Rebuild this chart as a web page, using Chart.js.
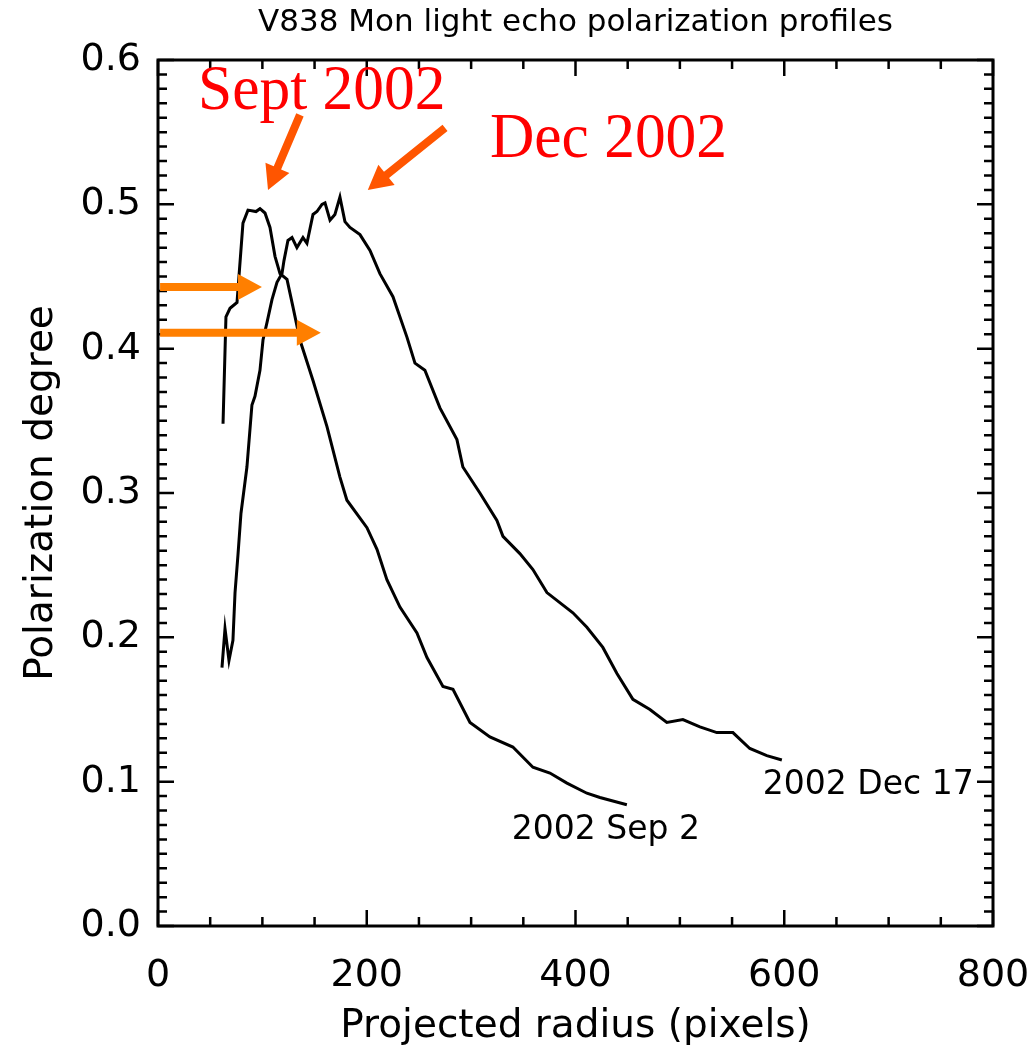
<!DOCTYPE html>
<html>
<head>
<meta charset="utf-8">
<script src="https://cdn.jsdelivr.net/npm/chart.js@4.4.1/dist/chart.umd.min.js"></script>
<style>
  html, body { margin: 0; padding: 0; background: #fff; }
</style>
</head>
<body>
<canvas id="chart" width="1032" height="1058"></canvas>
<script>
// 2002 Sep 2 profile
const sepX = [62.3, 65.1, 69.0, 75.7, 81.4, 86.2, 93.9, 97.7, 102.5, 107.3, 112.1, 116.9, 123.6, 129.3, 136.0,
  148.5, 161.9, 174.3, 181.0, 200.2, 209.8, 219.3, 231.8, 248.1, 257.7, 273.0, 282.6, 298.9, 318.0, 340.0,
  359.2, 375.5, 391.8, 410.9, 423.4, 449.2];
const sepY = [0.348, 0.422, 0.428, 0.432, 0.487, 0.496, 0.495, 0.497, 0.494, 0.484, 0.464, 0.452, 0.448, 0.429, 0.406,
  0.378, 0.346, 0.311, 0.295, 0.276, 0.261, 0.240, 0.221, 0.203, 0.186, 0.166, 0.164, 0.141, 0.131, 0.124,
  0.110, 0.106, 0.099, 0.092, 0.089, 0.084];

// 2002 Dec 17 profile
const decX = [61.3, 64.2, 68.0, 71.8, 73.8, 76.6, 79.5, 85.2, 90.0, 92.9, 97.7, 100.6, 104.4, 109.2, 114.0,
  118.8, 120.7, 124.5, 128.4, 133.1, 138.9, 142.7, 148.5, 152.3, 157.1, 160.0, 164.8, 169.5, 174.3, 179.1,
  183.9, 193.5, 203.1, 212.6, 225.1, 238.5, 246.2, 255.7, 270.1, 286.4, 292.1, 308.4, 324.7, 330.5, 346.7,
  359.2, 372.6, 397.5, 410.9, 426.2, 439.7, 455.0, 471.3, 487.5, 502.9, 519.2, 535.4, 550.8, 567.0, 583.3, 597.7];
const decY = [0.179, 0.206, 0.184, 0.198, 0.231, 0.257, 0.286, 0.318, 0.361, 0.367, 0.385, 0.406, 0.418, 0.434, 0.446,
  0.452, 0.461, 0.475, 0.477, 0.470, 0.477, 0.473, 0.493, 0.495, 0.500, 0.501, 0.489, 0.493, 0.505, 0.488,
  0.484, 0.479, 0.468, 0.452, 0.436, 0.408, 0.390, 0.385, 0.359, 0.337, 0.318, 0.300, 0.281, 0.270, 0.258,
  0.247, 0.231, 0.217, 0.207, 0.193, 0.175, 0.157, 0.150, 0.141, 0.143, 0.138, 0.134, 0.134, 0.123, 0.118, 0.115];

const xTickLabels = ['0', '200', '400', '600', '800'];
const yTickLabels = ['0.0', '0.1', '0.2', '0.3', '0.4', '0.5', '0.6'];

const toPoints = (xs, ys) => xs.map((x, i) => ({ x: x, y: ys[i] }));

// annotations placed in data units
const curveNotes = [
  { text: '2002 Sep 2', x: 339, y: 0.0665 },
  { text: '2002 Dec 17', x: 579.5, y: 0.0977 }
];
const redNotes = [
  { text: 'Sept 2002', x: 38.3, y: 0.566 },
  { text: 'Dec 2002', x: 318, y: 0.533 }
];
const arrows = [
  { from: [136, 0.562], to: [105.4, 0.510], color: '#ff5500' },
  { from: [275, 0.553], to: [201, 0.510], color: '#ff5500' },
  { from: [2, 0.4427], to: [99.6, 0.4427], color: '#ff7f00' },
  { from: [2, 0.411], to: [156, 0.411], color: '#ff7f00' }
];

function drawArrow(ctx, x1, y1, x2, y2, color) {
  const ang = Math.atan2(y2 - y1, x2 - x1);
  const len = Math.hypot(x2 - x1, y2 - y1);
  const headL = 24, headW = 13, shaft = 4;
  ctx.save();
  ctx.translate(x1, y1);
  ctx.rotate(ang);
  ctx.fillStyle = color;
  ctx.beginPath();
  ctx.moveTo(0, -shaft);
  ctx.lineTo(len - headL, -shaft);
  ctx.lineTo(len - headL, -headW);
  ctx.lineTo(len, 0);
  ctx.lineTo(len - headL, headW);
  ctx.lineTo(len - headL, shaft);
  ctx.lineTo(0, shaft);
  ctx.closePath();
  ctx.fill();
  ctx.restore();
}

const framePlugin = {
  id: 'frame',
  afterDatasetsDraw(chart) {
    const { ctx, chartArea: a, scales: { x, y } } = chart;
    ctx.save();
    ctx.strokeStyle = '#000';
    ctx.lineWidth = 2.5;
    ctx.beginPath();
    for (let v = 0; v <= 800; v += 50) {
      const px = x.getPixelForValue(v);
      const len = v % 200 === 0 ? 16 : 9;
      ctx.moveTo(px, a.bottom); ctx.lineTo(px, a.bottom - len);
      ctx.moveTo(px, a.top); ctx.lineTo(px, a.top + len);
    }
    for (let i = 0; i <= 60; i++) {
      const py = y.getPixelForValue(i / 100);
      const len = i % 10 === 0 ? 16 : 9;
      ctx.moveTo(a.left, py); ctx.lineTo(a.left + len, py);
      ctx.moveTo(a.right, py); ctx.lineTo(a.right - len, py);
    }
    ctx.stroke();
    ctx.lineWidth = 3;
    ctx.strokeRect(a.left, a.top, a.right - a.left, a.bottom - a.top);

    // curve labels
    ctx.fillStyle = '#000';
    ctx.font = '33px "DejaVu Sans"';
    ctx.textBaseline = 'middle';
    ctx.textAlign = 'left';
    curveNotes.forEach(n => {
      ctx.fillText(n.text, x.getPixelForValue(n.x), y.getPixelForValue(n.y));
    });

    // red annotations
    ctx.fillStyle = '#ff0000';
    ctx.font = '64px "Liberation Serif"';
    ctx.textBaseline = 'alphabetic';
    redNotes.forEach(n => {
      ctx.save();
      ctx.translate(x.getPixelForValue(n.x), y.getPixelForValue(n.y));
      ctx.scale(0.96, 1);
      ctx.fillText(n.text, 0, 0);
      ctx.restore();
    });

    arrows.forEach(ar => {
      drawArrow(ctx,
        x.getPixelForValue(ar.from[0]), y.getPixelForValue(ar.from[1]),
        x.getPixelForValue(ar.to[0]), y.getPixelForValue(ar.to[1]), ar.color);
    });
    ctx.restore();
  }
};

const lineStyle = {
  borderColor: '#000',
  borderWidth: 3,
  pointRadius: 0,
  tension: 0,
  fill: false
};

new Chart(document.getElementById('chart').getContext('2d'), {
  type: 'line',
  data: {
    datasets: [
      Object.assign({ label: '2002 Sep 2', data: toPoints(sepX, sepY) }, lineStyle),
      Object.assign({ label: '2002 Dec 17', data: toPoints(decX, decY) }, lineStyle)
    ]
  },
  options: {
    responsive: false,
    animation: false,
    devicePixelRatio: 1,
    layout: { padding: { top: 0, right: 39, bottom: 0, left: 0 } },
    plugins: {
      legend: { display: false },
      tooltip: { enabled: false },
      title: {
        display: true,
        text: 'V838 Mon light echo polarization profiles',
        color: '#000',
        fullSize: false,
        font: { family: 'DejaVu Sans', size: 31, weight: 'normal' },
        padding: { top: 4, bottom: 18.8 }
      }
    },
    scales: {
      x: {
        type: 'linear',
        min: 0,
        max: 800,
        grid: { display: false, drawTicks: false },
        border: { display: false },
        ticks: {
          stepSize: 200,
          padding: 27,
          color: '#000',
          font: { family: 'DejaVu Sans', size: 38 },
          callback: (v) => xTickLabels[Math.round(v / 200)]
        },
        title: {
          display: true,
          text: 'Projected radius (pixels)',
          color: '#000',
          font: { family: 'DejaVu Sans', size: 39 },
          padding: { top: 0, bottom: 8 }
        },
        afterFit: (s) => { s.height = 132; s.paddingLeft = 0; s.paddingRight = 0; }
      },
      y: {
        type: 'linear',
        min: 0,
        max: 0.6,
        grid: { display: false, drawTicks: false },
        border: { display: false },
        ticks: {
          stepSize: 0.1,
          padding: 17,
          color: '#000',
          font: { family: 'DejaVu Sans', size: 38 },
          callback: (v) => yTickLabels[Math.round(v * 10)]
        },
        title: {
          display: true,
          text: 'Polarization degree',
          color: '#000',
          font: { family: 'DejaVu Sans', size: 39 },
          padding: { top: 18, bottom: 0 }
        },
        afterFit: (s) => { s.width = 158; s.paddingTop = 0; s.paddingBottom = 0; }
      }
    }
  },
  plugins: [framePlugin]
});
</script>
</body>
</html>
